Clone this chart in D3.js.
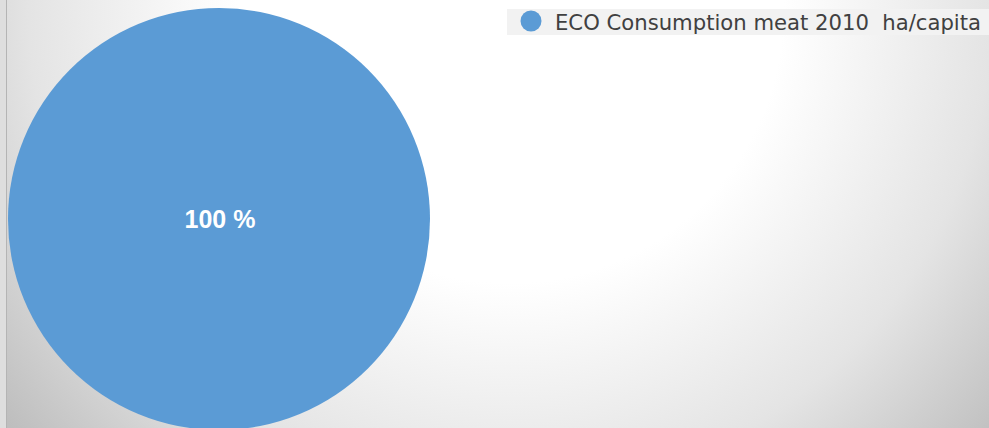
<!DOCTYPE html>
<html>
<head>
<meta charset="utf-8">
<script src="https://cdn.jsdelivr.net/npm/d3@7"></script>
<style>
  body { margin: 0; overflow: hidden; }
  svg { display: block; }
</style>
</head>
<body>
<div id="chart"></div>
<script>
// single-series pie, one slice

const width = 989,
    height = 428;

const categories = ["ECO Consumption meat 2010  ha/capita"];
const values = [100];
const colors = ["#5b9bd5"];

const svg = d3.select("#chart")
    .append("svg")
    .attr("width", width)
    .attr("height", height)
    .attr("viewBox", [0, 0, width, height]);

const defs = svg.append("defs");
const grad = defs.append("radialGradient")
    .attr("id", "bg")
    .attr("gradientUnits", "userSpaceOnUse")
    .attr("cx", 510).attr("cy", 10).attr("r", 650);
grad.append("stop").attr("offset", "0%").attr("stop-color", "#ffffff");
grad.append("stop").attr("offset", "42%").attr("stop-color", "#ffffff");
grad.append("stop").attr("offset", "74%").attr("stop-color", "#e4e4e4");
grad.append("stop").attr("offset", "100%").attr("stop-color", "#bebebe");

// outer strip + border
svg.append("rect")
    .attr("width", width).attr("height", height)
    .attr("fill", "#dedede");
svg.append("rect")
    .attr("x", 7).attr("y", 0)
    .attr("width", width - 7).attr("height", height)
    .attr("fill", "url(#bg)");
svg.append("line")
    .attr("x1", 6.5).attr("x2", 6.5)
    .attr("y1", 0).attr("y2", height)
    .attr("stroke", "#b4b4b4");

const cx = 219, cy = 219, r = 211;

const pie = d3.pie().sort(null)(values);
const arc = d3.arc().innerRadius(0).outerRadius(r);

const g = svg.append("g").attr("transform", `translate(${cx},${cy})`);
g.selectAll("path")
    .data(pie)
    .join("path")
    .attr("d", arc)
    .attr("fill", (d, i) => colors[i]);

const total = d3.sum(values);
g.selectAll("text")
    .data(pie)
    .join("text")
    .attr("x", d => values.length === 1 ? 1 : arc.centroid(d)[0])
    .attr("y", d => values.length === 1 ? 9 : arc.centroid(d)[1])
    .attr("text-anchor", "middle")
    .attr("fill", "#ffffff")
    .attr("font-family", "'Liberation Sans', Arial, sans-serif")
    .attr("font-weight", "bold")
    .attr("font-size", 25)
    .text(d => Math.round(d.data / total * 100) + " %");

// legend
const legend = svg.append("g");
legend.append("rect")
    .attr("x", 507).attr("y", 9)
    .attr("width", width - 507).attr("height", 26)
    .attr("fill", "#f2f2f2");
legend.selectAll("circle")
    .data(categories)
    .join("circle")
    .attr("cx", 531).attr("cy", (d, i) => 21 + i * 28)
    .attr("r", 10.5)
    .attr("fill", (d, i) => colors[i]);
legend.selectAll("text")
    .data(categories)
    .join("text")
    .attr("x", 555).attr("y", (d, i) => 30 + i * 28)
    .attr("fill", "#404040")
    .attr("font-family", "'DejaVu Sans', sans-serif")
    .attr("font-size", 21)
    .attr("xml:space", "preserve")
    .style("white-space", "pre")
    .attr("textLength", 426)
    .attr("lengthAdjust", "spacingAndGlyphs")
    .text(d => d);
</script>
</body>
</html>
